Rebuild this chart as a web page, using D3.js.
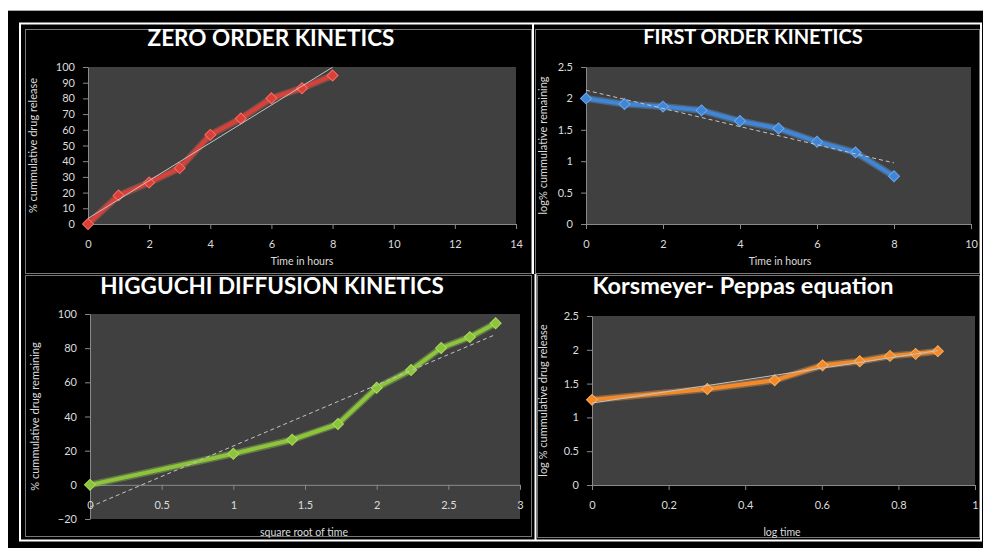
<!DOCTYPE html>
<html>
<head>
<meta charset="utf-8">
<script src="https://cdn.jsdelivr.net/npm/d3@7"></script>
<style>
    body { margin: 0; background: #fff; }
    svg { display: block; }
    text { font-family: Lato, "Open Sans", sans-serif; }
</style>
</head>
<body>
<svg id="chart" width="983" height="548"></svg>
<script>
// values
const timeHours = [0, 1, 2, 3, 4, 5, 6, 7, 8];
const cumRelease = [0, 18.2, 26.4, 35.6, 56.8, 67.2, 80.1, 86.5, 94.6];
const logRemaining = [2.0, 1.91, 1.87, 1.81, 1.64, 1.52, 1.31, 1.14, 0.76];
const sqrtTime = [0, 1, 1.41, 1.73, 2, 2.24, 2.45, 2.65, 2.83];
const logTime = [0, 0.301, 0.477, 0.602, 0.699, 0.778, 0.845, 0.903];
const logRelease = [1.26, 1.42, 1.55, 1.77, 1.83, 1.91, 1.94, 1.98];

const titles = ["ZERO ORDER KINETICS", "FIRST ORDER KINETICS", "HIGGUCHI DIFFUSION KINETICS", "Korsmeyer- Peppas equation"];
const xTitles = ["Time in hours", "Time in hours", "square root of time", "log time"];
const yTitles = ["% cummulative drug release", "log% cummulative remaining", "% cummulative drug remaining", "log % cummulative drug release"];

const PLOT_FILL = "#404040";
const AXIS_COLOR = "#8a8a8a";
const LABEL_COLOR = "#dcdcdc";

const svg = d3.select("#chart");

// black backdrop and white frame
svg.append("rect").attr("x", 8).attr("y", 10).attr("width", 980).attr("height", 540).attr("fill", "#000");
svg.append("line").attr("x1", 8).attr("x2", 983).attr("y1", 10.5).attr("y2", 10.5).attr("stroke", "#aaa");
svg.append("rect").attr("x", 20).attr("y", 23.5).attr("width", 961).attr("height", 517)
    .attr("fill", "none").attr("stroke", "#fff").attr("stroke-width", 2);

const boxes = [
    [25.5, 29.5, 506, 244],
    [535.5, 29.5, 444, 244],
    [25.5, 275.5, 506, 261],
    [537.5, 275.5, 442, 262]
];
boxes.forEach(([x, y, w, h]) => {
    svg.append("rect").attr("x", x).attr("y", y).attr("width", w).attr("height", h)
        .attr("fill", "none").attr("stroke", "#777").attr("stroke-width", 1);
});
svg.append("line").attr("x1", 533).attr("x2", 533).attr("y1", 23).attr("y2", 274)
    .attr("stroke", "#fff").attr("stroke-width", 2);
svg.append("line").attr("x1", 535.5).attr("x2", 535.5).attr("y1", 274).attr("y2", 540)
    .attr("stroke", "#fff").attr("stroke-width", 2);

function linFit(xs, ys) {
    const n = xs.length;
    const mx = d3.mean(xs), my = d3.mean(ys);
    let sxy = 0, sxx = 0;
    for (let i = 0; i < n; i++) {
        sxy += (xs[i] - mx) * (ys[i] - my);
        sxx += (xs[i] - mx) * (xs[i] - mx);
    }
    const slope = sxy / sxx;
    return { slope, intercept: my - slope * mx };
}

const panels = [
    {
        xs: timeHours, ys: cumRelease, color: "#d8403a", glow: "#ff6a5a",
        left: 88, right: 516, top: 67, bottom: 224,
        xDomain: [0, 14], xStep: 2, yDomain: [0, 100], yStep: 10,
        title: titles[0], titleX: 271, titleY: 46, titleSize: 22.5,
        xTitle: xTitles[0], xTitleX: 302, xTitleY: 265,
        yTitle: yTitles[0], yTitleX: 33, dash: null
    },
    {
        xs: timeHours, ys: logRemaining, color: "#3f86d6", glow: "#6aa8f0",
        left: 586, right: 971, top: 67, bottom: 224,
        xDomain: [0, 10], xStep: 2, yDomain: [0, 2.5], yStep: 0.5,
        title: titles[1], titleX: 753, titleY: 44, titleSize: 20,
        xTitle: xTitles[1], xTitleX: 780, xTitleY: 265,
        yTitle: yTitles[1], yTitleX: 543, dash: "4,3"
    },
    {
        xs: sqrtTime, ys: cumRelease, color: "#8cc43c", glow: "#a8dc5a",
        left: 90, right: 520, top: 314, bottom: 519,
        xDomain: [0, 3], xStep: 0.5, yDomain: [-20, 100], yStep: 20,
        title: titles[2], titleX: 272, titleY: 294, titleSize: 22.5,
        xTitle: xTitles[2], xTitleX: 304, xTitleY: 536,
        yTitle: yTitles[2], yTitleX: 35, dash: "4,3"
    },
    {
        xs: logTime, ys: logRelease, color: "#f28a2c", glow: "#ffae55",
        left: 592, right: 975, top: 316, bottom: 485,
        xDomain: [0, 1], xStep: 0.2, yDomain: [0, 2.5], yStep: 0.5,
        title: titles[3], titleX: 743, titleY: 294, titleSize: 23.5,
        xTitle: xTitles[3], xTitleX: 782, xTitleY: 536,
        yTitle: yTitles[3], yTitleX: 543, dash: null
    }
];

function drawPanel(p) {
    const x = d3.scaleLinear().domain(p.xDomain).range([p.left, p.right]);
    const y = d3.scaleLinear().domain(p.yDomain).range([p.bottom, p.top]);
    const g = svg.append("g");

    g.append("rect")
        .attr("x", p.left).attr("y", p.top)
        .attr("width", p.right - p.left).attr("height", p.bottom - p.top)
        .attr("fill", PLOT_FILL);

    const xTicks = d3.range(p.xDomain[0], p.xDomain[1] + p.xStep / 2, p.xStep);
    const yTicks = d3.range(p.yDomain[0], p.yDomain[1] + p.yStep / 2, p.yStep);

    // value axis on the left
    const yAxis = g.append("g")
        .attr("transform", `translate(${p.left},0)`)
        .call(d3.axisLeft(y).tickValues(yTicks).tickSize(5).tickPadding(8).tickSizeOuter(0)
            .tickFormat(d3.format("")));
    // x axis crosses at y = 0
    const xAxis = g.append("g")
        .attr("transform", `translate(0,${y(0)})`)
        .call(d3.axisBottom(x).tickValues(xTicks).tickSize(5).tickPadding(11).tickSizeOuter(0)
            .tickFormat(d3.format("")));

    [xAxis, yAxis].forEach(a => {
        a.selectAll("path, line").attr("stroke", AXIS_COLOR);
        a.selectAll("text").attr("fill", LABEL_COLOR).attr("font-size", 11)
            .attr("font-family", "Lato, sans-serif");
    });

    // series line + markers
    const pts = p.xs.map((v, i) => [v, p.ys[i]]);
    const line = d3.line().x(d => x(d[0])).y(d => y(d[1]));
    g.append("path").datum(pts)
        .attr("d", line).attr("fill", "none")
        .attr("stroke", p.glow).attr("stroke-opacity", 0.35).attr("stroke-width", 7)
        .attr("stroke-linejoin", "round");
    g.append("path").datum(pts)
        .attr("d", line).attr("fill", "none")
        .attr("stroke", p.color).attr("stroke-width", 4)
        .attr("stroke-linejoin", "round");

    const diamond = d3.symbol().type(d3.symbolSquare).size(60);
    g.selectAll(".marker").data(pts).join("path")
        .attr("class", "marker")
        .attr("d", diamond)
        .attr("transform", d => `translate(${x(d[0])},${y(d[1])}) rotate(45)`)
        .attr("fill", p.color)
        .attr("stroke", p.glow).attr("stroke-width", 1);

    // linear trendline
    const fit = linFit(p.xs, p.ys);
    const x0 = d3.min(p.xs), x1 = d3.max(p.xs);
    g.append("line")
        .attr("x1", x(x0)).attr("y1", y(fit.intercept + fit.slope * x0))
        .attr("x2", x(x1)).attr("y2", y(fit.intercept + fit.slope * x1))
        .attr("stroke", "#c4c4c4").attr("stroke-width", 1)
        .attr("stroke-dasharray", p.dash);

    // texts
    g.append("text")
        .attr("x", p.titleX).attr("y", p.titleY)
        .attr("text-anchor", "middle")
        .attr("font-weight", "bold").attr("font-size", p.titleSize)
        .attr("fill", "#fff")
        .text(p.title);
    g.append("text")
        .attr("x", p.xTitleX).attr("y", p.xTitleY)
        .attr("text-anchor", "middle")
        .attr("font-size", 10.5).attr("fill", LABEL_COLOR)
        .text(p.xTitle);
    const cy = (p.top + p.bottom) / 2;
    g.append("text")
        .attr("transform", `translate(${p.yTitleX},${cy}) rotate(-90)`)
        .attr("text-anchor", "middle").attr("dy", "0.35em")
        .attr("font-size", 11).attr("fill", LABEL_COLOR)
        .text(p.yTitle);
}

panels.forEach(drawPanel);
</script>
</body>
</html>
